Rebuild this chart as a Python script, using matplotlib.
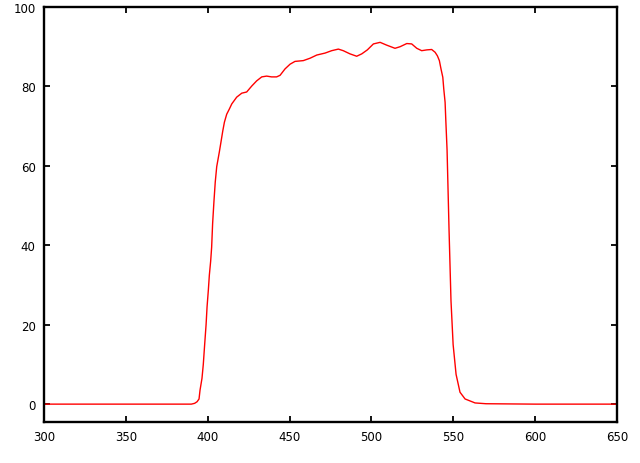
import matplotlib
matplotlib.use('Agg')
import matplotlib.pyplot as plt

# wavelength (nm) and transmission (%)
wavelength = [300, 350, 390, 392, 393.5, 394.7, 395.3, 396.5, 397.3, 398.1, 399.0,
              399.6, 400.4, 401.0, 401.8, 402.4, 403.0, 403.8, 404.6, 405.5,
              407.1, 408.1, 409.2, 410.2, 411.6, 413.2, 414.7, 417.7, 420.8,
              423.8, 426.9, 429.9, 433.0, 436.0, 439.0, 442.1, 444.2, 447.2,
              450.3, 453.3, 458.4, 462.5, 466.6, 471.7, 475.7, 479.8, 482.8,
              486.9, 491.0, 494.1, 497.5, 501.2, 505.3, 509.3, 514.4, 517.5,
              521.6, 524.6, 527.7, 530.7, 533.8, 536.8, 538.9, 540.3, 541.5,
              542.5, 543.6, 544.2, 545.0, 545.4, 546.2, 547.4, 548.6, 549.9,
              551.7, 554.1, 557.2, 563.3, 570, 600, 650]
transmission = [0.0, 0.0, 0.0, 0.2, 0.6, 1.3, 3.5, 6.5, 10.0, 14.8, 20.0,
                24.5, 28.8, 32.5, 36.0, 39.5, 45.5, 51.0, 55.9, 59.8,
                63.5, 66.0, 68.8, 71.0, 73.0, 74.3, 75.6, 77.3, 78.3,
                78.6, 80.1, 81.4, 82.4, 82.6, 82.4, 82.4, 82.8, 84.4,
                85.6, 86.3, 86.5, 87.1, 87.9, 88.4, 89.0, 89.4, 89.0,
                88.2, 87.6, 88.2, 89.2, 90.7, 91.1, 90.4, 89.6, 90.0,
                90.8, 90.7, 89.6, 89.0, 89.2, 89.3, 88.6, 87.7, 86.5,
                84.4, 82.3, 79.3, 76.0, 71.8, 64.0, 44.0, 26.0, 15.0,
                7.5, 3.0, 1.3, 0.3, 0.1, 0.0, 0.0]

fig = plt.figure(figsize=(6.4, 4.64), dpi=100)
ax = fig.add_axes([44/640, 41/464, 573/640, 415/464])
ax.plot(wavelength, transmission, color='#ff0000', linewidth=1.0)

ax.set_xlim(300, 650)
ax.set_ylim(-4.5, 100)
ax.set_xticks(range(300, 651, 50))
ax.set_yticks(range(0, 101, 20))
for s in ax.spines.values():
    s.set_linewidth(1.7)
ax.tick_params(direction='in', length=4, width=1.3, top=True, right=True,
               labelsize=8.5, pad=6)

plt.savefig('out.png', dpi=100)
